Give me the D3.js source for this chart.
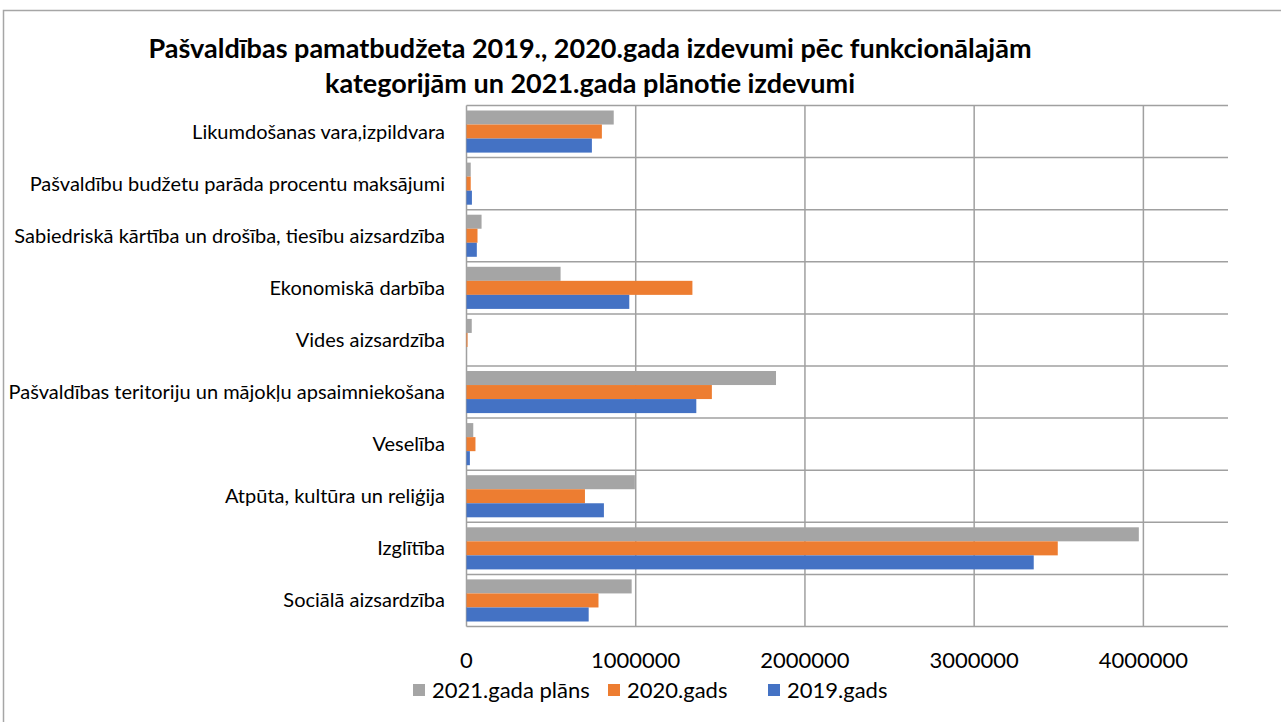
<!DOCTYPE html>
<meta charset="utf-8">
<style>
    body { margin: 0; background: #fff; }
    text { font-family: Lato, "Open Sans", sans-serif; fill: #000; }
    .grid line { stroke: #a0a0a0; stroke-width: 1.5px; }
    .title { font-size: 27px; font-weight: bold; }
    .cat { font-size: 20px; }
    .tick-label { font-size: 22px; }
    .legend text { font-size: 22px; }
</style>
<svg width="1281" height="722"></svg>
<script src="https://d3js.org/d3.v7.min.js"></script>
<script>

    var categories = [
        "Likumdošanas vara,izpildvara",
        "Pašvaldību budžetu parāda procentu maksājumi",
        "Sabiedriskā kārtība un drošība, tiesību aizsardzība",
        "Ekonomiskā darbība",
        "Vides aizsardzība",
        "Pašvaldības teritoriju un mājokļu apsaimniekošana",
        "Veselība",
        "Atpūta, kultūra un reliģija",
        "Izglītība",
        "Sociālā aizsardzība"
    ];
    var plans2021 = [870000, 25000, 89000, 556000, 31000, 1829000, 40000, 995000, 3973000, 976000];
    var gads2020  = [800000, 25000, 65000, 1335000, 6000, 1450000, 53000, 700000, 3494000, 780000];
    var gads2019  = [741000, 32000, 61000, 962000, 0, 1358000, 20000, 812000, 3352000, 722000];
    var seriesNames = ["2021.gada plāns", "2020.gads", "2019.gads"];
    var seriesColors = ["#a5a5a5", "#ed7d31", "#4472c4"];
    var xTicks = [0, 1000000, 2000000, 3000000, 4000000];
    var titleLines = [
        "Pašvaldības pamatbudžeta 2019., 2020.gada izdevumi pēc funkcionālajām",
        "kategorijām un 2021.gada plānotie izdevumi"
    ];

    var svg = d3.select("svg");

    // chart frame (runs off the right and bottom of the window)
    svg.append("rect")
        .attr("x", 3.5).attr("y", 10.5)
        .attr("width", 1400).attr("height", 800)
        .attr("fill", "#fff")
        .attr("stroke", "#a6a6a6")
        .attr("stroke-width", 1.5);

    var x = d3.scaleLinear()
        .domain([0, 4500000])
        .range([466.5, 1228]);

    var y = d3.scaleBand()
        .domain(categories)
        .range([105.5, 626.5]);

    var ySub = d3.scaleBand()
        .domain(seriesNames)
        .range([5, y.bandwidth() - 5]);

    var series = [plans2021, gads2020, gads2019];

    // gridlines
    var grid = svg.append("g").attr("class", "grid");
    grid.selectAll(".v")
        .data(xTicks)
        .enter().append("line")
        .attr("x1", d => x(d)).attr("x2", d => x(d))
        .attr("y1", y.range()[0]).attr("y2", y.range()[1]);
    var bounds = categories.map(c => y(c)).concat([y.range()[1]]);
    grid.selectAll(".h")
        .data(bounds)
        .enter().append("line")
        .attr("x1", x(0)).attr("x2", x.range()[1])
        .attr("y1", d => d).attr("y2", d => d);

    // bars
    series.forEach(function (vals, si) {
        svg.append("g")
            .selectAll("rect")
            .data(vals)
            .enter().append("rect")
            .attr("x", x(0))
            .attr("y", (d, i) => y(categories[i]) + ySub(seriesNames[si]))
            .attr("width", d => x(d) - x(0))
            .attr("height", ySub.bandwidth())
            .attr("fill", seriesColors[si]);
    });

    // category labels
    svg.append("g")
        .selectAll("text")
        .data(categories)
        .enter().append("text")
        .attr("class", "cat")
        .attr("x", 445)
        .attr("y", d => y(d) + y.bandwidth() / 2)
        .attr("dy", "0.35em")
        .attr("text-anchor", "end")
        .text(d => d);

    // x tick labels
    svg.append("g")
        .selectAll("text")
        .data(xTicks)
        .enter().append("text")
        .attr("class", "tick-label")
        .attr("x", d => x(d))
        .attr("y", 668)
        .attr("text-anchor", "middle")
        .text(d => d);

    // title
    svg.append("g")
        .selectAll("text")
        .data(titleLines)
        .enter().append("text")
        .attr("class", "title")
        .attr("x", 590)
        .attr("y", (d, i) => 58 + i * 35)
        .attr("text-anchor", "middle")
        .text(d => d);

    // legend
    var legendX = [413, 608, 768];
    var legend = svg.append("g").attr("class", "legend")
        .selectAll("g")
        .data(seriesNames)
        .enter().append("g")
        .attr("transform", (d, i) => "translate(" + legendX[i] + ",684)");
    legend.append("rect")
        .attr("width", 12).attr("height", 12)
        .attr("fill", (d, i) => seriesColors[i]);
    legend.append("text")
        .attr("x", 19).attr("y", 13.5)
        .text(d => d);

</script>
